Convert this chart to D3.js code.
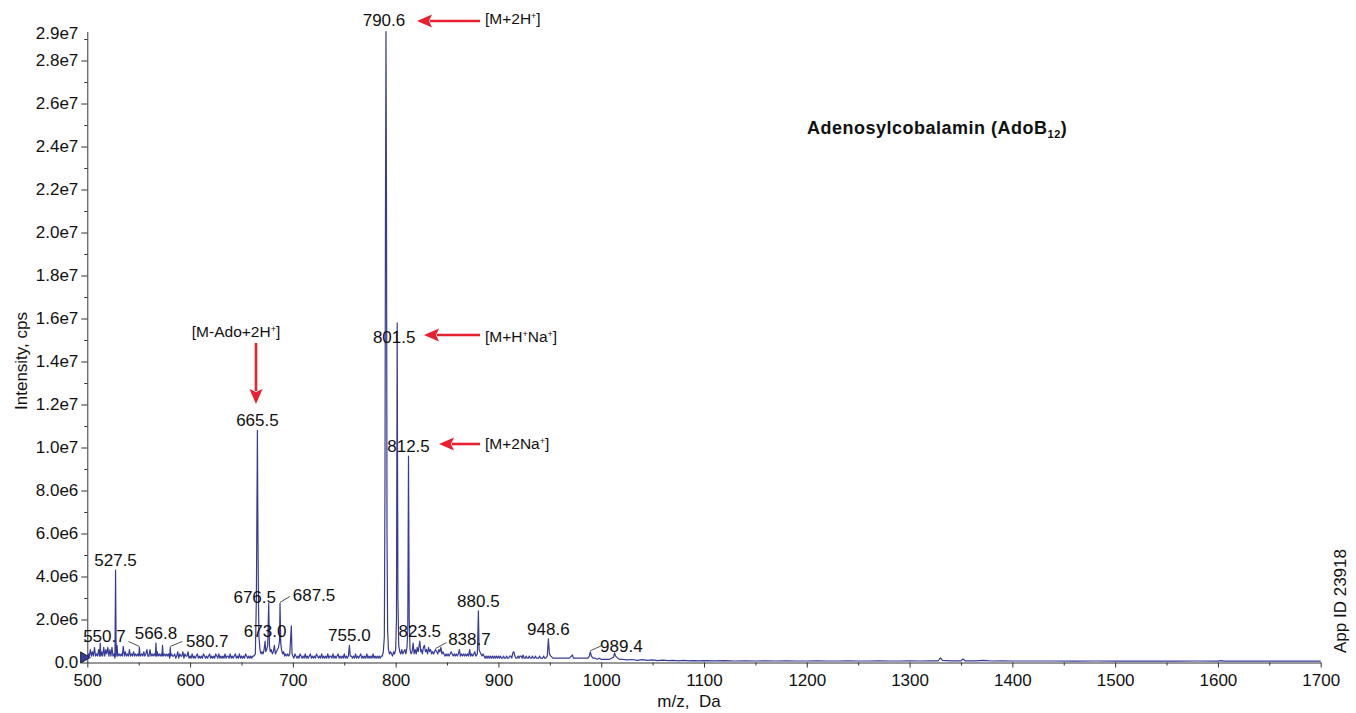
<!DOCTYPE html>
<html>
<head>
<meta charset="utf-8">
<script src="https://cdn.jsdelivr.net/npm/d3@7"></script>
<style>
  body { margin: 0; background: #fff; }
  svg text { font-family: "Liberation Sans", Arial, Helvetica, sans-serif; fill: #111; }
</style>
</head>
<body>
<svg id="chart" width="1356" height="713"></svg>
<script>
// spectrum profile: [m/z, intensity in 1e5 cps]
const spectrum = [
  [500,2],[501,4],[502,3],[503,6],[504,3],[505,5],[506,3],[507,7],[508,3],[509,4],[510,3],[511,6],[512,3],
  [512.6,9],[513.2,3],[514,5],[515,3],[516,7],[517,3],[518,6],[519,4],[520,7],[521,3],[522,6],[523,3],[524,7],
  [525,3],[526,4],[526.9,2],[527.5,43],[528.1,3],[529,8],[529.6,3],[531,4],[532,3],[533,4],[534,3],[535,7.5],
  [536,3],[537,5],[538,3],[539,4],[540,3],[541,6],[542,3],[543,4],[544,3],[545,5],[546,3],[547,4],[548,3],
  [549,4],[550,3],[550.7,7],[551.4,3],[553,4],[554,3],[555,5],[556,3],[557,4],[558,6],[559,3],[560,3],[561,6],
  [562,3],[563,4],[564,3],[565,4],[566.2,3],[566.8,9],[567.4,3],[568,5],[569,3],[570,4],[571,3],[572,4],
  [572.6,3],[573.2,8],[573.8,3],[575,4],[576,3],[577,4],[578,3],[579,4],[580.1,2],[580.7,7],[581.3,3],[582,4],
  [583,3],[584,3],[585,4],[586,2],[587,3],[588,5],[589,2],[590,4],[591,3],[592,3],[593,5],[594,2],[595,4],
  [596,3],[597,3],[598,5],[599,2],[600,3],[601,2],[602,4],[603,2],[604,3],[605,2],[606,3],[607,4],[608,2],
  [609,3],[610,2],[611,3],[612,2],[613,4],[614,3],[615,2],[616,3],[617,2],[618,3],[619,4],[620,2],[621,3],
  [622,2],[623,3],[624,2],[625,4],[626,3],[627,2],[628,4],[629,2],[630,3],[631,2],[632,3],[633,2],[634,4],
  [635,2],[636,3],[637,3],[638,2],[639,4],[640,2],[641,3],[642,2],[643,3],[644,4],[645,2],[646,3],[647,2],
  [648,4],[649,2],[650,3],[651,2],[652,3],[653,2],[654,4],[655,3],[656,2],[657,3],[658,2],[659,3],[660,2],
  [661,3],[662,3],[663.5,4],[664.5,30],
  [665,70],[665.5,108],[666,62],[666.5,30],[667,12],[668,6],[669,4],[670,5],[671,4],[672,6],[673,10],
  [673.6,5],[674.5,6],[675.5,8],[676.5,27.5],[677.2,8],[678,5],[679,6],[680,4],[681,5],[682,8],[683,4],
  [684,5],[685,6],[686,7],[687,10],[687.5,27.5],[688.2,9],[689,6],[690,4],[691,5],[692,3],[693,4],[694,3],
  [695,4],[696,3],[697,4],[698.5,17],[699.2,4],[700,3],[701,2],[702,4],[703,3],[704,2],[705,3],[706,2],
  [707,4],[708,3],[709,2],[710,3],[711,2],[712,4],[713,2],[714,3],[715,2],[716,3],[717,4],[718,2],[719,3],
  [720,2],[721,3],[722,2],[723,4],[724,3],[725,2],[726,3],[727,2],[728,4],[729,2],[730,3],[731,2],[732,3],
  [733,2],[734,4],[735,2],[736,3],[737,3],[738,2],[739,4],[740,2],[741,3],[742,2],[743,3],[744,4],[745,2],
  [746,3],[747,2],[748,3],[749,2],[750,4],[751,2],[752,3],[753,2],[754,3],[755,8],[755.8,3],[757,3],[758,2],
  [759,3],[760,2],[761,4],[762,2],[763,3],[764,2],[765,3],[766,4],[767,2],[768,3],[769,2],[770,3],[771,2],
  [772,4],[773,2],[774,3],[775,2],[776,3],[777,2],[778,4],[779,2],[780,3],[781,2],[782,3],[783,2],[784,3],
  [785,2],[786,3],[787,3],[788,5],[789,12],[789.6,80],[790.1,210],[790.6,293.5],[791.1,210],[791.6,60],[792.2,15],[793,6],
  [794,4],[795,5],[796,4],[797,3],[798,5],[799,4],[800,6],[800.8,20],[801.5,158],[802.2,30],[803,8],[804,5],
  [805,4],[806,6],[807,4],[808,5],[809,6],[810,4],[811,7],[811.8,15],[812.5,96],[813.2,20],[814,6],[815,4],
  [816,5],[817,9],[818,4],[819,6],[820,4],[821,7],[822,5],[823.5,10],[824.5,5],[825,6],[826,4],[827,7],
  [828,8],[829,5],[830,6],[831,4],[832,7],[833,5],[834,6],[835,4],[836,5],[837,4],[838.7,6],[840,5],[841,4],
  [842,6],[843,5],[844,7],[845,4],[846,5],[847,4],[848,3],[849,4],[850,3],[851,4],[852,3],[853,4],[854,5],
  [855,4],[856,3],[857,4],[858,3],[859,4],[860,3],[861,4],[862,6],[863,3],[864,4],[865,3],[866,4],[867,3],
  [868,4],[869,3],[870,4],[871,3],[872,6],[873,3],[874,4],[875,3],[876,4],[877,5],[878,3],[879.5,4],
  [880.5,24],[881.2,6],[882,5],[883,4],[884,3],[885,4],[886,3],[887,2],[888,3],[889,2],[890,3],[891,2],
  [892,3],[893,2],[894,3],[895,2],[896,3],[897,2],[898,3],[899,2],[900,3],[901,2],[902,3],[903,2],[904,2],
  [905,3],[906,2],[907,2],[908,3],[909,2],[910,2],[911,3],[912,3],[913,2],[914,4.5],[915,5],[916,3],[917,2],
  [918,2],[919,3],[920,2],[921,3],[922,3],[923,2],[924,3.5],[925,2],[926,2],[927,3],[928,2],[929,2],[930,3],
  [931,2],[932,2],[933,3],[934,2],[935,2],[936,3],[937,2],[938,2],[939,2],[940,3],[941,2],[942,2],[943,2],
  [944,3],[945,2],[946,2],[947.5,3],[948.6,11],[949.6,4],[951,3],[953,2],[955,2],[957,2],[959,2],[961,2],
  [963,2],[965,2],[967,2],[969,2],[971,3],[972,3.5],[973,2],[975,2],[977,2],[979,2],[981,2],[983,2],[985,2],
  [987,2],[988.5,3],[989.4,5],[990.5,3],[992,2],[994,2],[996,1.5],[998,2],[1000,1.5],[1002,1.5],[1004,1.5],
  [1006,1.5],[1008,1.5],[1010,2],[1012,2.5],[1013,4.5],[1014,3],[1016,2],[1018,1.5],[1020,1.5],[1025,1.2],
  [1030,1.4],[1035,1.0],[1040,1.3],[1045,1.0],[1050,1.2],[1055,0.9],[1060,1.1],[1065,0.9],[1070,1.0],
  [1075,0.8],[1080,1.0],[1085,0.8],[1090,0.9],[1095,0.8],[1100,0.9],[1110,0.8],[1120,0.9],[1130,0.7],
  [1140,0.8],[1150,0.7],[1160,0.8],[1170,0.7],[1180,0.8],[1190,0.7],[1200,0.7],[1210,0.8],[1220,0.7],
  [1230,0.7],[1240,0.8],[1250,0.7],[1260,0.7],[1270,0.8],[1280,0.7],[1290,0.7],[1300,0.8],[1310,0.7],
  [1320,0.8],[1328,0.8],[1330,2.2],[1332,1.0],[1340,0.8],[1350,0.8],[1352,1.6],[1354,0.8],[1365,0.8],
  [1372,1.0],[1380,0.7],[1390,0.8],[1400,0.7],[1420,0.7],[1440,0.7],[1460,0.6],[1480,0.7],[1500,0.6],
  [1520,0.6],[1540,0.6],[1560,0.6],[1580,0.7],[1600,0.6],[1603,0.9],[1606,0.6],[1620,0.6],[1640,0.6],
  [1660,0.6],[1680,0.6],[1700,0.6]
];
const intensityUnit = 1e5;

// labelled peaks: m/z, label text
const peakMz     = [527.5, 550.7, 566.8, 580.7, 665.5, 673.0, 676.5, 687.5, 755.0, 790.6, 801.5, 812.5, 823.5, 838.7, 880.5, 948.6, 989.4];
const peakLabels = ["527.5","550.7","566.8","580.7","665.5","673.0","676.5","687.5","755.0","790.6","801.5","812.5","823.5","838.7","880.5","948.6","989.4"];

const xTicks = [500, 600, 700, 800, 900, 1000, 1100, 1200, 1300, 1400, 1500, 1600, 1700];
const xMinorTicks = [550, 650, 750, 850, 950, 1050, 1150, 1250, 1350, 1450, 1550, 1650];
const yTicks = [0, 2e6, 4e6, 6e6, 8e6, 1e7, 1.2e7, 1.4e7, 1.6e7, 1.8e7, 2e7, 2.2e7, 2.4e7, 2.6e7, 2.8e7];
const yMinorTicks = [1e6, 3e6, 5e6, 7e6, 9e6, 1.1e7, 1.3e7, 1.5e7, 1.7e7, 1.9e7, 2.1e7, 2.3e7, 2.5e7, 2.7e7, 2.9e7];
const yMax = 2.935e7;
const yTopLabel = "2.9e7";

const ionNotes = ["[M+2H|+|]", "[M+H|+|Na|+|]", "[M+2Na|+|]", "[M-Ado+2H|+|]"];

const svg = d3.select("#chart");
const lineColor = "#363b97";
const red = "#e8202f";

const x = d3.scaleLinear().domain([500, 1700]).range([87.3, 1320.7]);
const y = d3.scaleLinear().domain([0, yMax]).range([662.5, 31.5]);

const fmt = v => v === 0 ? "0.0" : d3.format(".1e")(v).replace("e+", "e");

// axes
svg.append("g").attr("transform", `translate(${x(500)},0)`)
  .call(d3.axisLeft(y).tickValues(yTicks).tickFormat(fmt).tickSize(6).tickPadding(3).tickSizeOuter(0));
svg.append("g").attr("transform", `translate(${x(500)},0)`)
  .call(d3.axisLeft(y).tickValues(yMinorTicks).tickFormat("").tickSize(3).tickSizeOuter(0))
  .select(".domain").remove();

svg.append("g").attr("transform", `translate(0,${y(0)})`)
  .call(d3.axisBottom(x).tickValues(xTicks).tickFormat(d3.format("d")).tickSize(5).tickPadding(6).tickSizeOuter(0));
svg.append("g").attr("transform", `translate(0,${y(0)})`)
  .call(d3.axisBottom(x).tickValues(xMinorTicks).tickFormat("").tickSize(3).tickSizeOuter(0))
  .select(".domain").remove();

svg.selectAll(".tick text").style("font-size", "17px").attr("fill", "#111");
svg.selectAll(".domain, .tick line").attr("stroke", "#333");

// top label of y axis
svg.append("text").attr("x", x(500) - 9).attr("y", y(yMax) + 2).attr("dy", "0.32em")
  .attr("text-anchor", "end").style("font-size", "17px").text(yTopLabel);

// axis titles
svg.append("text").attr("transform", `translate(27,${(y(0) + y(yMax)) / 2 + 14}) rotate(-90)`)
  .attr("text-anchor", "middle").style("font-size", "17px").text("Intensity, cps");
svg.append("text").attr("x", 689).attr("y", 707).attr("text-anchor", "middle")
  .style("white-space", "pre").style("font-size", "17px").text("m/z,  Da");

// spectrum trace
const line = d3.line().x(d => x(d[0])).y(d => y(d[1] * intensityUnit));
svg.append("path").datum(spectrum).attr("d", line)
  .attr("fill", "none").attr("stroke", lineColor).attr("stroke-width", 1.2).attr("stroke-linejoin", "round");

// baseline marker
svg.append("path").attr("d", d3.symbol(d3.symbolTriangle, 55)())
  .attr("transform", `translate(${x(500) - 3.5},${y(0) - 5}) rotate(90)`)
  .attr("fill", lineColor).attr("stroke", "#111").attr("stroke-width", 0.8);

// peak labels; offsets relative to peak apex (dx, dy, leader)
const labelLayout = {
  "550.7": {dx: -35, dy: -5, lead: [-11, -5]},
  "580.7": {dx: 37, dy: 0, lead: [12, -5]},
  "676.5": {dx: -14, dy: 0},
  "687.5": {dx: 34, dy: -2, lead: [10, -6]},
  "790.6": {dx: -2, dy: -6},
  "801.5": {dx: -3, dy: 20},
  "838.7": {dx: 34, dy: -5, lead: [11, -6]},
  "989.4": {dx: 31, dy: 0, lead: [11, -5]}
};
const apex = mz => {
  const p = spectrum.reduce((a, b) => Math.abs(b[0] - mz) < Math.abs(a[0] - mz) ? b : a);
  return [x(mz), y(p[1] * intensityUnit)];
};
peakMz.forEach((mz, i) => {
  const [px, py] = apex(mz);
  const lay = labelLayout[peakLabels[i]] || {dx: 0, dy: -4};
  svg.append("text").attr("x", px + lay.dx).attr("y", py + lay.dy)
    .attr("text-anchor", "middle").style("font-size", "17px").text(peakLabels[i]);
  if (lay.lead) {
    svg.append("line").attr("x1", px).attr("y1", py - 1)
      .attr("x2", px + lay.lead[0]).attr("y2", py - 1 + lay.lead[1])
      .attr("stroke", "#222").attr("stroke-width", 0.8);
  }
});

// ion annotations with red arrows
function ionText(sel, str) {
  str.split("|").forEach((part, k) => {
    const sup = k % 2 === 1;
    sel.append("tspan").text(part)
      .style("font-size", sup ? "9px" : "15.5px")
      .attr("dy", sup ? -5 : (k > 0 ? 5 : 0));
  });
}
function arrow(x1, y1, x2, y2) {
  const a = Math.atan2(y2 - y1, x2 - x1), L = 15, W = 6.5;
  const bx = x2 - L * Math.cos(a), by = y2 - L * Math.sin(a);
  svg.append("line").attr("x1", x1).attr("y1", y1).attr("x2", bx + 2 * Math.cos(a)).attr("y2", by + 2 * Math.sin(a))
    .attr("stroke", red).attr("stroke-width", 2.6);
  svg.append("path").attr("d", `M${x2},${y2}L${bx - W * Math.sin(a)},${by + W * Math.cos(a)}L${bx + 3 * Math.cos(a)},${by + 3 * Math.sin(a)}L${bx + W * Math.sin(a)},${by - W * Math.cos(a)}Z`)
    .attr("fill", red);
}
const notePos = [
  {tx: 485, ty: 24, tail: [480, 21], tip: [417, 21]},
  {tx: 485, ty: 342, tail: [480, 335], tip: [424, 335]},
  {tx: 485, ty: 449, tail: [480, 444], tip: [439, 444]},
  {tx: 236, ty: 337, anchor: "middle", tail: [256, 343], tip: [256, 404]}
];
ionNotes.forEach((n, i) => {
  const p = notePos[i];
  const t = svg.append("text").attr("x", p.tx).attr("y", p.ty).attr("text-anchor", p.anchor || "start")
    .style("font-weight", 500);
  ionText(t, n);
  arrow(p.tail[0], p.tail[1], p.tip[0], p.tip[1]);
});

// compound title
const title = svg.append("text").attr("x", 807).attr("y", 134).style("font-size", "18px")
  .style("font-weight", "bold").style("letter-spacing", "0.5px");
title.append("tspan").text("Adenosylcobalamin (AdoB");
title.append("tspan").text("12").style("font-size", "11px").attr("dy", 4);
title.append("tspan").text(")").attr("dy", -4);

// app id
svg.append("text").attr("transform", "translate(1346,601) rotate(-90)").attr("text-anchor", "middle")
  .style("font-size", "17px").text("App ID 23918");
</script>
</body>
</html>
